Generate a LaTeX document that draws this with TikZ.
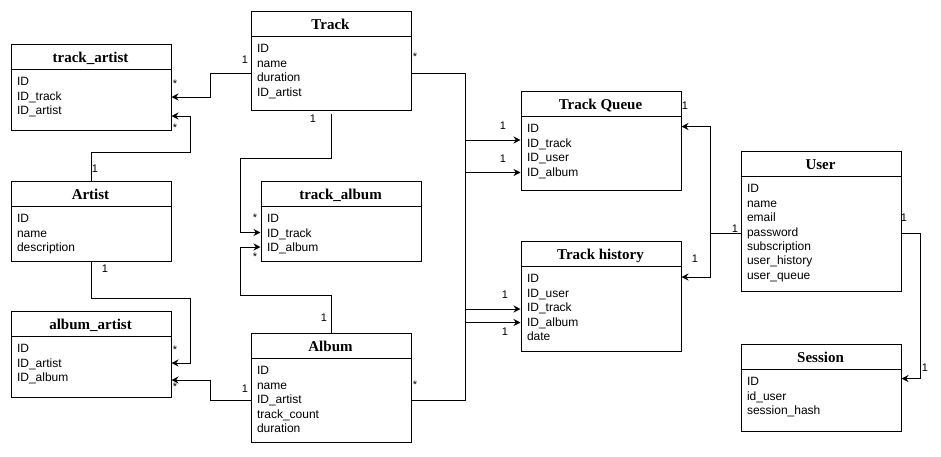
\documentclass[tikz,border=0pt]{standalone}
\usepackage{tikz}
\usepackage{fontspec}
\setmainfont{Liberation Sans}
\newfontfamily\titlefont{Liberation Serif}
\usepgflibrary{arrows.meta}
\tikzset{
  entbox/.style={draw, anchor=north west, inner sep=0pt, fill=white},
  enttitle/.style={anchor=base, inner sep=0pt, font=\titlefont\bfseries\fontsize{15}{18}\selectfont},
  field/.style={anchor=base west, inner sep=0pt, font=\fontsize{12}{14.4}\selectfont},
  card/.style={inner sep=0pt, font=\fontsize{11}{13}\selectfont},
  rel/.style={-{Stealth[length=7pt,width=7pt]}},
}
\def\entity#1#2#3#4#5#6#7{
  % 1: node name
  % 2: x
  % 3: y
  % 4: width
  % 5: height
  % 6: title
  % 7: fields
  \node[entbox, minimum width=#4pt, minimum height=#5pt] (#1) at (#2,#3) {};
  \draw (#1.north west) ++(0,26) -- ++(#4,0);
  \node[enttitle] (#1-title) at (#2+#4/2,#3+18.5) {#6};
  \foreach \f [count=\i] in {#7}
    \node[field] (#1-\i) at (#2+6,#3+27.9+\i*14.4) {\f};
}
\begin{document}
\begin{tikzpicture}[x=1pt,y=-1pt,line width=1pt]
    \useasboundingbox (0,0) rectangle (941,456);
    % \entity{name}{x}{y}{w}{h}{title}{fields}
    \entity{track}{250.5}{10.5}{160}{99}{Track}{ID,name,duration,ID\_artist}
    \entity{ta}{10.5}{43.5}{160}{86}{track\_artist}{ID,ID\_track,ID\_artist}
    \entity{artist}{10.5}{180.5}{160}{80}{Artist}{ID,name,description}
    \entity{talbum}{260.5}{180.5}{160}{80}{track\_album}{ID,ID\_track,ID\_album}
    \entity{aa}{10.5}{310.5}{160}{86}{album\_artist}{ID,ID\_artist,ID\_album}
    \entity{album}{250.5}{332.5}{160}{109}{Album}{ID,name,ID\_artist,track\_count,duration}
    \entity{tq}{520.5}{90.5}{160}{99}{Track Queue}{ID,ID\_track,ID\_user,ID\_album}
    \entity{th}{520.5}{240.5}{160}{110}{Track history}{ID,ID\_user,ID\_track,ID\_album,date}
    \entity{user}{740.5}{150.5}{160}{140}{User}{ID,name,email,password,subscription,user\_history,user\_queue}
    \entity{session}{740.5}{343.5}{160}{87}{Session}{ID,id\_user,session\_hash}

    % links on the left
    \draw[rel] (track.west |- 0,73.5) -| (210.5,97) -- (ta.east |- 0,97);
    \draw[rel] (artist.north) |- (190.5,152) |- (ta.east |- 0,116);
    \draw[rel] ([yshift=-3pt]track.south) |- (240.5,158) |- (talbum.west |- 0,232.5);
    \draw[rel] (album.north) |- (240.5,295) |- (talbum.west |- 0,247);
    \draw[rel] (artist.south) |- (190.5,298) |- (aa.east |- 0,363);
    \draw[rel] (album.west |- 0,400) -| (210.5,380) -- (aa.east |- 0,380);

    % bus to queue and history
    \coordinate (bus) at (465.5,0);
    \draw (track.east |- 0,73.5) -| (bus |- 0,400) -- (album.east |- 0,400);
    \draw[rel] (bus |- 0,140) -- (tq.west |- 0,140);
    \draw[rel] (bus |- 0,172.5) -- (tq.west |- 0,172.5);
    \draw[rel] (bus |- 0,309) -- (th.west |- 0,309);
    \draw[rel] (bus |- 0,322.5) -- (th.west |- 0,322.5);

    % user links
    \draw[rel] (user.west |- 0,233.5) -| (710.5,126.5) -- (tq.east |- 0,126.5);
    \draw[rel] (user.west |- 0,233.5) -| (710.5,277) -- (th.east |- 0,277);
    \draw[rel] (user.east |- 0,233.5) -| (920.5,378.5) -- (session.east |- 0,378.5);

    % cardinalities
    \node[card] (c1) at (245,60) {1};
    \node[card] (c2) at (175,84) {*};
    \node[card] (c3) at (95,169) {1};
    \node[card] (c4) at (175,128) {*};
    \node[card] (c5) at (313,119) {1};
    \node[card] (c6) at (255,218) {*};
    \node[card] (c7) at (324,318) {1};
    \node[card] (c8) at (255,257) {*};
    \node[card] (c9) at (105,269) {1};
    \node[card] (c10) at (175,350) {*};
    \node[card] (c11) at (245,389) {1};
    \node[card] (c12) at (175,387) {*};
    \node[card] (c13) at (415,57) {*};
    \node[card] (c14) at (415,385) {*};
    \node[card] (c15) at (503,126) {1};
    \node[card] (c16) at (503,159) {1};
    \node[card] (c17) at (505,295) {1};
    \node[card] (c18) at (505,332) {1};
    \node[card] (c19) at (685,106) {1};
    \node[card] (c20) at (695,259) {1};
    \node[card] (c21) at (735,229) {1};
    \node[card] (c22) at (904,218) {1};
    \node[card] (c23) at (925,368) {1};
  \end{tikzpicture}
\end{document}
